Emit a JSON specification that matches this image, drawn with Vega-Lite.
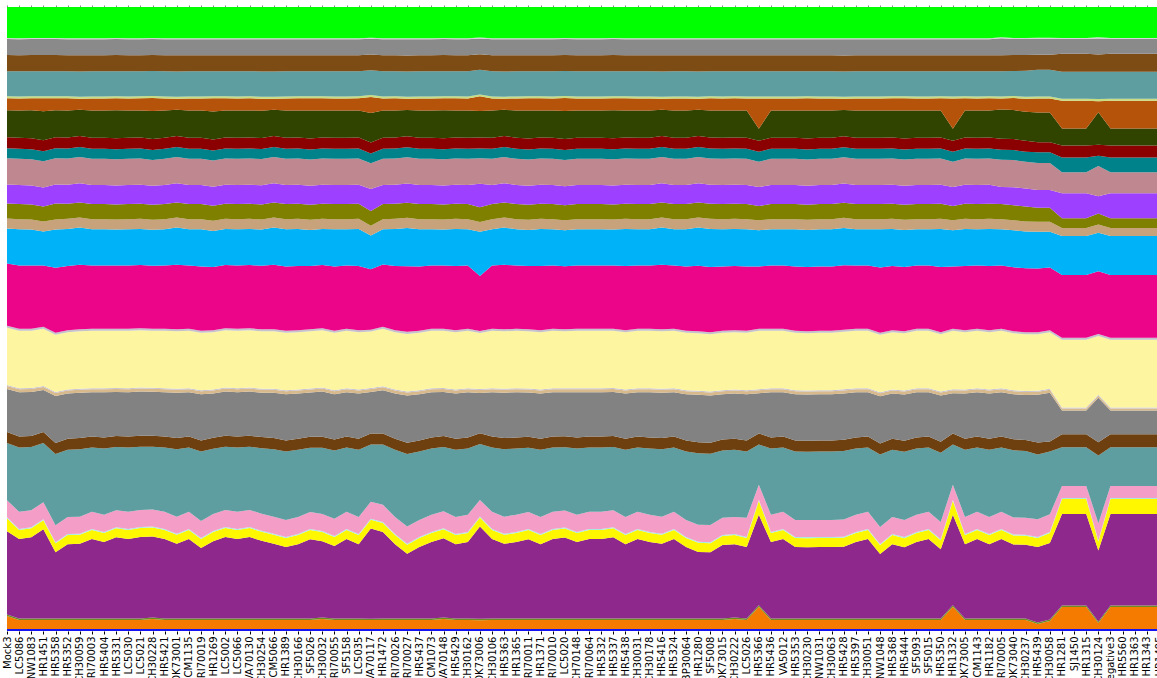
{
"$schema": "https://vega.github.io/schema/vega-lite/v6.json",
"width": 1152, "height": 624,
"autosize": {"type": "none"},
"padding": {"left": 7, "top": 7, "right": 0, "bottom": 60},
"background": "white",
"config": {"view": {"stroke": null}},
"data": {"values": [
{"s":"Mock3","a0":2,"a1":13,"a2":1.5,"a3":83,"a4":13,"a5":1,"a6":17,"a7":57,"a8":11,"a9":43,"b0":3,"b1":1,"b2":57,"b3":2,"b4":62,"b5":35,"b6":10,"b7":15,"b8":19,"b9":26,"c0":10,"c1":11,"c2":27,"c3":12,"c4":2,"c5":25,"c6":16,"c7":16,"c8":1,"c9":31},
{"s":"LC5086","a0":2,"a1":9,"a2":1.5,"a3":79,"a4":9,"a5":1,"a6":17,"a7":64,"a8":11,"a9":44,"b0":3,"b1":1,"b2":57,"b3":2,"b4":63,"b5":36,"b6":10,"b7":15,"b8":19,"b9":26,"c0":10,"c1":11,"c2":27,"c3":12,"c4":2,"c5":25,"c6":16,"c7":16,"c8":1,"c9":31},
{"s":"NW1083","a0":2,"a1":9,"a2":1.5,"a3":81,"a4":9,"a5":1,"a6":17,"a7":63,"a8":11,"a9":44,"b0":3,"b1":1,"b2":57,"b3":2,"b4":63,"b5":36,"b6":10,"b7":15,"b8":19,"b9":26,"c0":10,"c1":11,"c2":28,"c3":12,"c4":2,"c5":25,"c6":16,"c7":16,"c8":1,"c9":31},
{"s":"HR1451","a0":2,"a1":9,"a2":1.5,"a3":89,"a4":9,"a5":1,"a6":17,"a7":59,"a8":11,"a9":42,"b0":3,"b1":1,"b2":57,"b3":2,"b4":61,"b5":34,"b6":10,"b7":15,"b8":19,"b9":26,"c0":10,"c1":11,"c2":29,"c3":13,"c4":2,"c5":25,"c6":16,"c7":16,"c8":1,"c9":31},
{"s":"HR5358","a0":2,"a1":9,"a2":1.5,"a3":66,"a4":9,"a5":1,"a6":17,"a7":71,"a8":11,"a9":47,"b0":3,"b1":1,"b2":57,"b3":2,"b4":65,"b5":38,"b6":10,"b7":16,"b8":19,"b9":26,"c0":10,"c1":11,"c2":27,"c3":12,"c4":2,"c5":25,"c6":16,"c7":16,"c8":1,"c9":31},
{"s":"HR5352","a0":2,"a1":9,"a2":1.5,"a3":74,"a4":9,"a5":1,"a6":17,"a7":67,"a8":11,"a9":45,"b0":3,"b1":1,"b2":57,"b3":2,"b4":64,"b5":37,"b6":10,"b7":15,"b8":19,"b9":26,"c0":10,"c1":11,"c2":27,"c3":12,"c4":2,"c5":25,"c6":16,"c7":16,"c8":1,"c9":31},
{"s":"CH30059","a0":2,"a1":9,"a2":1.5,"a3":74,"a4":9,"a5":1,"a6":17,"a7":67,"a8":11,"a9":45,"b0":3,"b1":1,"b2":57,"b3":2,"b4":64,"b5":37,"b6":10,"b7":15,"b8":19,"b9":26,"c0":10,"c1":11,"c2":26,"c3":11,"c4":2,"c5":25,"c6":16,"c7":16,"c8":1,"c9":31},
{"s":"RI70003","a0":2,"a1":9,"a2":1.5,"a3":79,"a4":9,"a5":1,"a6":17,"a7":64,"a8":11,"a9":44,"b0":3,"b1":1,"b2":57,"b3":2,"b4":63,"b5":36,"b6":10,"b7":15,"b8":19,"b9":26,"c0":10,"c1":11,"c2":27,"c3":12,"c4":2,"c5":25,"c6":16,"c7":16,"c8":1,"c9":31},
{"s":"HR5404","a0":2,"a1":9,"a2":1.5,"a3":76,"a4":9,"a5":1,"a6":17,"a7":66,"a8":11,"a9":45,"b0":3,"b1":1,"b2":57,"b3":2,"b4":63,"b5":36,"b6":10,"b7":15,"b8":19,"b9":26,"c0":10,"c1":11,"c2":27,"c3":12,"c4":2,"c5":25,"c6":16,"c7":16,"c8":1,"c9":31},
{"s":"HR5331","a0":2,"a1":9,"a2":1.5,"a3":81,"a4":9,"a5":1,"a6":17,"a7":63,"a8":11,"a9":44,"b0":3,"b1":1,"b2":57,"b3":2,"b4":63,"b5":36,"b6":10,"b7":15,"b8":19,"b9":26,"c0":10,"c1":11,"c2":28,"c3":12,"c4":2,"c5":25,"c6":16,"c7":16,"c8":1,"c9":31},
{"s":"LC5030","a0":2,"a1":9,"a2":1.5,"a3":79,"a4":9,"a5":1,"a6":17,"a7":64,"a8":11,"a9":44,"b0":3,"b1":1,"b2":57,"b3":2,"b4":63,"b5":36,"b6":10,"b7":15,"b8":19,"b9":26,"c0":10,"c1":11,"c2":27,"c3":12,"c4":2,"c5":25,"c6":16,"c7":16,"c8":1,"c9":31},
{"s":"LC5021","a0":2,"a1":9,"a2":1.5,"a3":81,"a4":9,"a5":1,"a6":17,"a7":63,"a8":11,"a9":44,"b0":3,"b1":1,"b2":57,"b3":2,"b4":63,"b5":36,"b6":10,"b7":15,"b8":19,"b9":26,"c0":10,"c1":11,"c2":27,"c3":12,"c4":2,"c5":25,"c6":16,"c7":16,"c8":1,"c9":31},
{"s":"CH30228","a0":2,"a1":10,"a2":1.5,"a3":81,"a4":9,"a5":1,"a6":17,"a7":63,"a8":11,"a9":44,"b0":3,"b1":1,"b2":57,"b3":2,"b4":63,"b5":36,"b6":10,"b7":15,"b8":19,"b9":26,"c0":10,"c1":11,"c2":28,"c3":13,"c4":2,"c5":25,"c6":16,"c7":16,"c8":1,"c9":31},
{"s":"HR5421","a0":2,"a1":9,"a2":1.5,"a3":79,"a4":9,"a5":1,"a6":17,"a7":64,"a8":11,"a9":44,"b0":3,"b1":1,"b2":57,"b3":2,"b4":63,"b5":36,"b6":10,"b7":15,"b8":19,"b9":26,"c0":10,"c1":11,"c2":27,"c3":12,"c4":2,"c5":25,"c6":16,"c7":16,"c8":1,"c9":31},
{"s":"OK73001","a0":2,"a1":9,"a2":1.5,"a3":74,"a4":9,"a5":1,"a6":17,"a7":67,"a8":11,"a9":45,"b0":3,"b1":1,"b2":57,"b3":2,"b4":64,"b5":37,"b6":10,"b7":15,"b8":19,"b9":26,"c0":10,"c1":11,"c2":26,"c3":11,"c4":2,"c5":25,"c6":16,"c7":16,"c8":1,"c9":31},
{"s":"CM1135","a0":2,"a1":9,"a2":1.5,"a3":79,"a4":9,"a5":1,"a6":17,"a7":64,"a8":11,"a9":44,"b0":3,"b1":1,"b2":57,"b3":2,"b4":63,"b5":36,"b6":10,"b7":15,"b8":19,"b9":26,"c0":10,"c1":11,"c2":27,"c3":12,"c4":2,"c5":25,"c6":16,"c7":16,"c8":1,"c9":31},
{"s":"RI70019","a0":2,"a1":9,"a2":1.5,"a3":70,"a4":9,"a5":1,"a6":17,"a7":69,"a8":11,"a9":46,"b0":3,"b1":1,"b2":57,"b3":2,"b4":64,"b5":37,"b6":10,"b7":15,"b8":19,"b9":26,"c0":10,"c1":11,"c2":27,"c3":12,"c4":2,"c5":25,"c6":16,"c7":16,"c8":1,"c9":31},
{"s":"HR1269","a0":2,"a1":9,"a2":1.5,"a3":77,"a4":9,"a5":1,"a6":17,"a7":65,"a8":11,"a9":44,"b0":3,"b1":1,"b2":57,"b3":2,"b4":63,"b5":36,"b6":10,"b7":15,"b8":19,"b9":26,"c0":10,"c1":11,"c2":28,"c3":13,"c4":2,"c5":25,"c6":16,"c7":16,"c8":1,"c9":31},
{"s":"LC5002","a0":2,"a1":9,"a2":1.5,"a3":81,"a4":9,"a5":1,"a6":17,"a7":63,"a8":11,"a9":44,"b0":3,"b1":1,"b2":57,"b3":2,"b4":63,"b5":36,"b6":10,"b7":15,"b8":19,"b9":26,"c0":10,"c1":11,"c2":27,"c3":12,"c4":2,"c5":25,"c6":16,"c7":16,"c8":1,"c9":31},
{"s":"LC5066","a0":2,"a1":9,"a2":1.5,"a3":79,"a4":9,"a5":1,"a6":17,"a7":64,"a8":11,"a9":44,"b0":3,"b1":1,"b2":57,"b3":2,"b4":63,"b5":36,"b6":10,"b7":15,"b8":19,"b9":26,"c0":10,"c1":11,"c2":27,"c3":12,"c4":2,"c5":25,"c6":16,"c7":16,"c8":1,"c9":31},
{"s":"VA70130","a0":2,"a1":9,"a2":1.5,"a3":81,"a4":9,"a5":1,"a6":17,"a7":63,"a8":11,"a9":44,"b0":3,"b1":1,"b2":57,"b3":2,"b4":63,"b5":36,"b6":10,"b7":15,"b8":19,"b9":26,"c0":10,"c1":11,"c2":27,"c3":12,"c4":2,"c5":25,"c6":16,"c7":16,"c8":1,"c9":31},
{"s":"CH30254","a0":2,"a1":9,"a2":1.5,"a3":77,"a4":9,"a5":1,"a6":17,"a7":65,"a8":11,"a9":44,"b0":3,"b1":1,"b2":57,"b3":2,"b4":63,"b5":36,"b6":10,"b7":15,"b8":19,"b9":26,"c0":10,"c1":11,"c2":27,"c3":12,"c4":2,"c5":25,"c6":16,"c7":16,"c8":1,"c9":31},
{"s":"CM5066","a0":2,"a1":9,"a2":1.5,"a3":74,"a4":9,"a5":1,"a6":17,"a7":67,"a8":11,"a9":45,"b0":3,"b1":1,"b2":57,"b3":2,"b4":64,"b5":37,"b6":10,"b7":15,"b8":19,"b9":26,"c0":10,"c1":11,"c2":26,"c3":11,"c4":2,"c5":25,"c6":16,"c7":16,"c8":1,"c9":31},
{"s":"HR1389","a0":2,"a1":9,"a2":1.5,"a3":71,"a4":9,"a5":1,"a6":17,"a7":68,"a8":11,"a9":46,"b0":3,"b1":1,"b2":57,"b3":2,"b4":64,"b5":37,"b6":10,"b7":15,"b8":19,"b9":26,"c0":10,"c1":11,"c2":27,"c3":12,"c4":2,"c5":25,"c6":16,"c7":16,"c8":1,"c9":31},
{"s":"CH30166","a0":2,"a1":9,"a2":1.5,"a3":74,"a4":9,"a5":1,"a6":17,"a7":67,"a8":11,"a9":45,"b0":3,"b1":1,"b2":57,"b3":2,"b4":64,"b5":37,"b6":10,"b7":15,"b8":19,"b9":26,"c0":10,"c1":11,"c2":27,"c3":12,"c4":2,"c5":25,"c6":16,"c7":16,"c8":1,"c9":31},
{"s":"SF5026","a0":2,"a1":9,"a2":1.5,"a3":79,"a4":9,"a5":1,"a6":17,"a7":64,"a8":11,"a9":44,"b0":3,"b1":1,"b2":57,"b3":2,"b4":63,"b5":36,"b6":10,"b7":15,"b8":19,"b9":26,"c0":10,"c1":11,"c2":28,"c3":12,"c4":2,"c5":25,"c6":16,"c7":16,"c8":1,"c9":31},
{"s":"CH30032","a0":2,"a1":10,"a2":1.5,"a3":76,"a4":9,"a5":1,"a6":17,"a7":66,"a8":11,"a9":45,"b0":3,"b1":1,"b2":57,"b3":2,"b4":63,"b5":36,"b6":10,"b7":15,"b8":19,"b9":26,"c0":10,"c1":11,"c2":27,"c3":12,"c4":2,"c5":25,"c6":16,"c7":16,"c8":1,"c9":31},
{"s":"RI70055","a0":2,"a1":9,"a2":1.5,"a3":72,"a4":9,"a5":1,"a6":17,"a7":68,"a8":11,"a9":45,"b0":3,"b1":1,"b2":57,"b3":2,"b4":64,"b5":37,"b6":10,"b7":15,"b8":19,"b9":26,"c0":10,"c1":11,"c2":27,"c3":12,"c4":2,"c5":25,"c6":16,"c7":16,"c8":1,"c9":31},
{"s":"SF5158","a0":2,"a1":9,"a2":1.5,"a3":79,"a4":9,"a5":1,"a6":17,"a7":64,"a8":11,"a9":44,"b0":3,"b1":1,"b2":57,"b3":2,"b4":63,"b5":36,"b6":10,"b7":15,"b8":19,"b9":26,"c0":10,"c1":11,"c2":27,"c3":12,"c4":2,"c5":25,"c6":16,"c7":16,"c8":1,"c9":31},
{"s":"LC5035","a0":2,"a1":9,"a2":1.5,"a3":74,"a4":9,"a5":1,"a6":17,"a7":67,"a8":11,"a9":45,"b0":3,"b1":1,"b2":57,"b3":2,"b4":64,"b5":37,"b6":10,"b7":15,"b8":19,"b9":26,"c0":10,"c1":11,"c2":27,"c3":12,"c4":2,"c5":25,"c6":16,"c7":16,"c8":1,"c9":31},
{"s":"VA70117","a0":2,"a1":9,"a2":1.5,"a3":91,"a4":9,"a5":1,"a6":17,"a7":58,"a8":11,"a9":42,"b0":3,"b1":1,"b2":57,"b3":2,"b4":61,"b5":34,"b6":10,"b7":15,"b8":22,"b9":26,"c0":10,"c1":11,"c2":30,"c3":16,"c4":2,"c5":25,"c6":16,"c7":16,"c8":1,"c9":31},
{"s":"HR1472","a0":2,"a1":9,"a2":1.5,"a3":86,"a4":9,"a5":1,"a6":17,"a7":60,"a8":11,"a9":43,"b0":3,"b1":1,"b2":57,"b3":2,"b4":62,"b5":35,"b6":10,"b7":15,"b8":19,"b9":26,"c0":10,"c1":11,"c2":27,"c3":12,"c4":2,"c5":25,"c6":16,"c7":16,"c8":1,"c9":31},
{"s":"RI70026","a0":2,"a1":9,"a2":1.5,"a3":74,"a4":9,"a5":1,"a6":17,"a7":67,"a8":11,"a9":45,"b0":3,"b1":1,"b2":57,"b3":2,"b4":64,"b5":37,"b6":10,"b7":15,"b8":19,"b9":26,"c0":10,"c1":11,"c2":27,"c3":12,"c4":2,"c5":25,"c6":16,"c7":16,"c8":1,"c9":31},
{"s":"RI70027","a0":2,"a1":9,"a2":1.5,"a3":64,"a4":9,"a5":1,"a6":17,"a7":72,"a8":11,"a9":47,"b0":3,"b1":1,"b2":57,"b3":2,"b4":65,"b5":38,"b6":10,"b7":15,"b8":19,"b9":26,"c0":10,"c1":11,"c2":26,"c3":11,"c4":2,"c5":25,"c6":16,"c7":16,"c8":1,"c9":31},
{"s":"HR5437","a0":2,"a1":9,"a2":1.5,"a3":71,"a4":9,"a5":1,"a6":17,"a7":68,"a8":11,"a9":46,"b0":3,"b1":1,"b2":57,"b3":2,"b4":64,"b5":37,"b6":10,"b7":15,"b8":19,"b9":26,"c0":10,"c1":11,"c2":27,"c3":12,"c4":2,"c5":25,"c6":16,"c7":16,"c8":1,"c9":31},
{"s":"CM1073","a0":2,"a1":9,"a2":1.5,"a3":76,"a4":9,"a5":1,"a6":17,"a7":66,"a8":11,"a9":45,"b0":3,"b1":1,"b2":57,"b3":2,"b4":63,"b5":36,"b6":10,"b7":15,"b8":19,"b9":26,"c0":10,"c1":11,"c2":27,"c3":12,"c4":2,"c5":25,"c6":16,"c7":16,"c8":1,"c9":31},
{"s":"VA70148","a0":2,"a1":10,"a2":1.5,"a3":79,"a4":9,"a5":1,"a6":17,"a7":64,"a8":11,"a9":44,"b0":3,"b1":1,"b2":57,"b3":2,"b4":63,"b5":36,"b6":10,"b7":15,"b8":19,"b9":26,"c0":10,"c1":11,"c2":28,"c3":12,"c4":2,"c5":25,"c6":16,"c7":16,"c8":1,"c9":31},
{"s":"HR5429","a0":2,"a1":9,"a2":1.5,"a3":74,"a4":9,"a5":1,"a6":17,"a7":67,"a8":11,"a9":45,"b0":3,"b1":1,"b2":57,"b3":2,"b4":64,"b5":37,"b6":10,"b7":15,"b8":19,"b9":26,"c0":10,"c1":11,"c2":27,"c3":12,"c4":2,"c5":25,"c6":16,"c7":16,"c8":1,"c9":31},
{"s":"CH30162","a0":2,"a1":9,"a2":1.5,"a3":76,"a4":9,"a5":1,"a6":17,"a7":66,"a8":11,"a9":45,"b0":3,"b1":1,"b2":57,"b3":2,"b4":63,"b5":36,"b6":10,"b7":15,"b8":19,"b9":26,"c0":10,"c1":11,"c2":27,"c3":12,"c4":2,"c5":25,"c6":16,"c7":16,"c8":1,"c9":31},
{"s":"OK73006","a0":2,"a1":9,"a2":1.5,"a3":94,"a4":9,"a5":1,"a6":17,"a7":57,"a8":11,"a9":41,"b0":3,"b1":1,"b2":57,"b3":2,"b4":56,"b5":45,"b6":10,"b7":15,"b8":24,"b9":26,"c0":10,"c1":11,"c2":27,"c3":15,"c4":2,"c5":25,"c6":16,"c7":16,"c8":1,"c9":31},
{"s":"CH30106","a0":2,"a1":9,"a2":1.5,"a3":79,"a4":9,"a5":1,"a6":17,"a7":64,"a8":11,"a9":44,"b0":3,"b1":1,"b2":57,"b3":2,"b4":63,"b5":36,"b6":10,"b7":15,"b8":19,"b9":26,"c0":10,"c1":11,"c2":27,"c3":12,"c4":2,"c5":25,"c6":16,"c7":16,"c8":1,"c9":31},
{"s":"HR5363","a0":2,"a1":9,"a2":1.5,"a3":74,"a4":9,"a5":1,"a6":17,"a7":67,"a8":11,"a9":45,"b0":3,"b1":1,"b2":57,"b3":2,"b4":64,"b5":37,"b6":10,"b7":15,"b8":19,"b9":26,"c0":10,"c1":11,"c2":26,"c3":11,"c4":2,"c5":25,"c6":16,"c7":16,"c8":1,"c9":31},
{"s":"HR1365","a0":2,"a1":9,"a2":1.5,"a3":76,"a4":9,"a5":1,"a6":17,"a7":66,"a8":11,"a9":45,"b0":3,"b1":1,"b2":57,"b3":2,"b4":63,"b5":36,"b6":10,"b7":15,"b8":19,"b9":26,"c0":10,"c1":11,"c2":27,"c3":12,"c4":2,"c5":25,"c6":16,"c7":16,"c8":1,"c9":31},
{"s":"RI70011","a0":2,"a1":9,"a2":1.5,"a3":79,"a4":9,"a5":1,"a6":17,"a7":64,"a8":11,"a9":44,"b0":3,"b1":1,"b2":57,"b3":2,"b4":63,"b5":36,"b6":10,"b7":15,"b8":19,"b9":26,"c0":10,"c1":11,"c2":28,"c3":12,"c4":2,"c5":25,"c6":16,"c7":16,"c8":1,"c9":31},
{"s":"HR1371","a0":2,"a1":9,"a2":1.5,"a3":74,"a4":9,"a5":1,"a6":17,"a7":67,"a8":11,"a9":45,"b0":3,"b1":1,"b2":57,"b3":2,"b4":64,"b5":37,"b6":10,"b7":15,"b8":19,"b9":26,"c0":10,"c1":11,"c2":27,"c3":12,"c4":2,"c5":25,"c6":16,"c7":16,"c8":1,"c9":31},
{"s":"RI70010","a0":2,"a1":9,"a2":1.5,"a3":79,"a4":9,"a5":1,"a6":17,"a7":64,"a8":11,"a9":44,"b0":3,"b1":1,"b2":57,"b3":2,"b4":63,"b5":36,"b6":10,"b7":15,"b8":19,"b9":26,"c0":10,"c1":11,"c2":27,"c3":12,"c4":2,"c5":25,"c6":16,"c7":16,"c8":1,"c9":31},
{"s":"LC5020","a0":2,"a1":9,"a2":1.5,"a3":81,"a4":9,"a5":1,"a6":17,"a7":63,"a8":11,"a9":44,"b0":3,"b1":1,"b2":57,"b3":2,"b4":63,"b5":36,"b6":10,"b7":15,"b8":19,"b9":26,"c0":10,"c1":11,"c2":28,"c3":13,"c4":2,"c5":25,"c6":16,"c7":16,"c8":1,"c9":31},
{"s":"CH70148","a0":2,"a1":9,"a2":1.5,"a3":76,"a4":9,"a5":1,"a6":17,"a7":66,"a8":11,"a9":45,"b0":3,"b1":1,"b2":57,"b3":2,"b4":63,"b5":36,"b6":10,"b7":15,"b8":19,"b9":26,"c0":10,"c1":11,"c2":27,"c3":12,"c4":2,"c5":25,"c6":16,"c7":16,"c8":1,"c9":31},
{"s":"RI70064","a0":2,"a1":9,"a2":1.5,"a3":79,"a4":9,"a5":1,"a6":17,"a7":64,"a8":11,"a9":44,"b0":3,"b1":1,"b2":57,"b3":2,"b4":63,"b5":36,"b6":10,"b7":15,"b8":19,"b9":26,"c0":10,"c1":11,"c2":27,"c3":12,"c4":2,"c5":25,"c6":16,"c7":16,"c8":1,"c9":31},
{"s":"HR5332","a0":2,"a1":9,"a2":1.5,"a3":79,"a4":9,"a5":1,"a6":17,"a7":64,"a8":11,"a9":44,"b0":3,"b1":1,"b2":57,"b3":2,"b4":63,"b5":36,"b6":10,"b7":15,"b8":19,"b9":26,"c0":10,"c1":11,"c2":27,"c3":12,"c4":2,"c5":25,"c6":16,"c7":16,"c8":1,"c9":31},
{"s":"HR5337","a0":2,"a1":9,"a2":1.5,"a3":81,"a4":9,"a5":1,"a6":17,"a7":63,"a8":11,"a9":44,"b0":3,"b1":1,"b2":57,"b3":2,"b4":63,"b5":36,"b6":10,"b7":15,"b8":19,"b9":26,"c0":10,"c1":11,"c2":28,"c3":12,"c4":2,"c5":25,"c6":16,"c7":16,"c8":1,"c9":31},
{"s":"HR5438","a0":2,"a1":9,"a2":1.5,"a3":74,"a4":9,"a5":1,"a6":17,"a7":67,"a8":11,"a9":45,"b0":3,"b1":1,"b2":57,"b3":2,"b4":64,"b5":37,"b6":10,"b7":15,"b8":19,"b9":26,"c0":10,"c1":11,"c2":27,"c3":12,"c4":2,"c5":25,"c6":16,"c7":16,"c8":1,"c9":31},
{"s":"CH30031","a0":2,"a1":9,"a2":1.5,"a3":79,"a4":9,"a5":1,"a6":17,"a7":64,"a8":11,"a9":44,"b0":3,"b1":1,"b2":57,"b3":2,"b4":63,"b5":36,"b6":10,"b7":15,"b8":19,"b9":26,"c0":10,"c1":11,"c2":27,"c3":12,"c4":2,"c5":25,"c6":16,"c7":16,"c8":1,"c9":31},
{"s":"CH30178","a0":2,"a1":9,"a2":1.5,"a3":76,"a4":9,"a5":1,"a6":17,"a7":66,"a8":11,"a9":45,"b0":3,"b1":1,"b2":57,"b3":2,"b4":63,"b5":36,"b6":10,"b7":15,"b8":19,"b9":26,"c0":10,"c1":11,"c2":27,"c3":12,"c4":2,"c5":25,"c6":16,"c7":16,"c8":1,"c9":31},
{"s":"HR5416","a0":2,"a1":9,"a2":1.5,"a3":74,"a4":9,"a5":1,"a6":17,"a7":67,"a8":11,"a9":45,"b0":3,"b1":1,"b2":57,"b3":2,"b4":64,"b5":37,"b6":10,"b7":15,"b8":19,"b9":26,"c0":10,"c1":11,"c2":26,"c3":11,"c4":2,"c5":25,"c6":16,"c7":16,"c8":1,"c9":31},
{"s":"HR5324","a0":2,"a1":9,"a2":1.5,"a3":79,"a4":9,"a5":1,"a6":17,"a7":64,"a8":11,"a9":44,"b0":3,"b1":1,"b2":57,"b3":2,"b4":63,"b5":36,"b6":10,"b7":15,"b8":19,"b9":26,"c0":10,"c1":11,"c2":27,"c3":12,"c4":2,"c5":25,"c6":16,"c7":16,"c8":1,"c9":31},
{"s":"BP30064","a0":2,"a1":9,"a2":1.5,"a3":71,"a4":9,"a5":1,"a6":17,"a7":68,"a8":11,"a9":46,"b0":3,"b1":1,"b2":57,"b3":2,"b4":64,"b5":37,"b6":10,"b7":15,"b8":19,"b9":26,"c0":10,"c1":11,"c2":27,"c3":12,"c4":2,"c5":25,"c6":16,"c7":16,"c8":1,"c9":31},
{"s":"HR1280","a0":2,"a1":9,"a2":1.5,"a3":66,"a4":9,"a5":1,"a6":17,"a7":71,"a8":11,"a9":47,"b0":3,"b1":1,"b2":57,"b3":2,"b4":65,"b5":38,"b6":10,"b7":15,"b8":19,"b9":26,"c0":10,"c1":11,"c2":26,"c3":11,"c4":2,"c5":25,"c6":16,"c7":16,"c8":1,"c9":31},
{"s":"SF5008","a0":2,"a1":9,"a2":1.5,"a3":66,"a4":9,"a5":1,"a6":17,"a7":71,"a8":11,"a9":47,"b0":3,"b1":1,"b2":57,"b3":2,"b4":65,"b5":38,"b6":10,"b7":15,"b8":19,"b9":26,"c0":10,"c1":11,"c2":27,"c3":12,"c4":2,"c5":25,"c6":16,"c7":16,"c8":1,"c9":31},
{"s":"OK73015","a0":2,"a1":9,"a2":1.5,"a3":73,"a4":9,"a5":1,"a6":17,"a7":67,"a8":11,"a9":45,"b0":3,"b1":1,"b2":57,"b3":2,"b4":64,"b5":37,"b6":10,"b7":15,"b8":19,"b9":26,"c0":10,"c1":11,"c2":27,"c3":12,"c4":2,"c5":25,"c6":16,"c7":16,"c8":1,"c9":31},
{"s":"CH30222","a0":2,"a1":10,"a2":1.5,"a3":73,"a4":9,"a5":1,"a6":17,"a7":67,"a8":11,"a9":45,"b0":3,"b1":1,"b2":57,"b3":2,"b4":64,"b5":37,"b6":10,"b7":15,"b8":19,"b9":26,"c0":10,"c1":11,"c2":27,"c3":12,"c4":2,"c5":25,"c6":16,"c7":16,"c8":1,"c9":31},
{"s":"LC5026","a0":2,"a1":9,"a2":1.5,"a3":71,"a4":9,"a5":1,"a6":19,"a7":66,"a8":11,"a9":46,"b0":3,"b1":1,"b2":57,"b3":2,"b4":64,"b5":37,"b6":10,"b7":15,"b8":19,"b9":26,"c0":10,"c1":11,"c2":27,"c3":12,"c4":2,"c5":25,"c6":16,"c7":16,"c8":1,"c9":31},
{"s":"HR5366","a0":2,"a1":22,"a2":1.5,"a3":90,"a4":14,"a5":1,"a6":15,"a7":40,"a8":11,"a9":40,"b0":3,"b1":1,"b2":58,"b3":2,"b4":62,"b5":36,"b6":10,"b7":14,"b8":19,"b9":25,"c0":10,"c1":11,"c2":12,"c3":30,"c4":2,"c5":25,"c6":16,"c7":16,"c8":1,"c9":31},
{"s":"HR5436","a0":2,"a1":9,"a2":1.5,"a3":76,"a4":9,"a5":1,"a6":17,"a7":66,"a8":11,"a9":45,"b0":3,"b1":1,"b2":57,"b3":2,"b4":63,"b5":36,"b6":10,"b7":15,"b8":19,"b9":26,"c0":10,"c1":11,"c2":27,"c3":12,"c4":2,"c5":25,"c6":16,"c7":16,"c8":1,"c9":31},
{"s":"VA5012","a0":2,"a1":9,"a2":1.5,"a3":79,"a4":9,"a5":1,"a6":17,"a7":64,"a8":11,"a9":44,"b0":3,"b1":1,"b2":57,"b3":2,"b4":63,"b5":36,"b6":10,"b7":15,"b8":19,"b9":26,"c0":10,"c1":11,"c2":27,"c3":12,"c4":2,"c5":25,"c6":16,"c7":16,"c8":1,"c9":31},
{"s":"HR5353","a0":2,"a1":9,"a2":1.5,"a3":71,"a4":9,"a5":1,"a6":17,"a7":68,"a8":11,"a9":46,"b0":3,"b1":1,"b2":57,"b3":2,"b4":64,"b5":37,"b6":10,"b7":15,"b8":19,"b9":26,"c0":10,"c1":11,"c2":27,"c3":12,"c4":2,"c5":25,"c6":16,"c7":16,"c8":1,"c9":31},
{"s":"CH30230","a0":2,"a1":9,"a2":1.5,"a3":71,"a4":9,"a5":1,"a6":17,"a7":68,"a8":11,"a9":46,"b0":3,"b1":1,"b2":57,"b3":2,"b4":64,"b5":37,"b6":10,"b7":15,"b8":19,"b9":26,"c0":10,"c1":11,"c2":28,"c3":12,"c4":2,"c5":25,"c6":16,"c7":16,"c8":1,"c9":31},
{"s":"NW1031","a0":2,"a1":9,"a2":1.5,"a3":71,"a4":9,"a5":1,"a6":17,"a7":68,"a8":11,"a9":46,"b0":3,"b1":1,"b2":57,"b3":2,"b4":64,"b5":37,"b6":10,"b7":15,"b8":19,"b9":26,"c0":10,"c1":11,"c2":27,"c3":12,"c4":2,"c5":25,"c6":16,"c7":16,"c8":1,"c9":31},
{"s":"CH30063","a0":2,"a1":9,"a2":1.5,"a3":71,"a4":9,"a5":1,"a6":17,"a7":68,"a8":11,"a9":46,"b0":3,"b1":1,"b2":57,"b3":2,"b4":64,"b5":37,"b6":10,"b7":15,"b8":19,"b9":26,"c0":10,"c1":11,"c2":27,"c3":12,"c4":2,"c5":25,"c6":16,"c7":16,"c8":1,"c9":31},
{"s":"HR5428","a0":2,"a1":9,"a2":1.5,"a3":71,"a4":9,"a5":1,"a6":17,"a7":68,"a8":11,"a9":46,"b0":3,"b1":1,"b2":57,"b3":2,"b4":64,"b5":37,"b6":10,"b7":15,"b8":19,"b9":26,"c0":10,"c1":11,"c2":26,"c3":11,"c4":2,"c5":25,"c6":16,"c7":16,"c8":1,"c9":31},
{"s":"HR5397","a0":2,"a1":9,"a2":1.5,"a3":76,"a4":9,"a5":1,"a6":17,"a7":66,"a8":11,"a9":45,"b0":3,"b1":1,"b2":57,"b3":2,"b4":63,"b5":36,"b6":10,"b7":15,"b8":19,"b9":26,"c0":10,"c1":11,"c2":27,"c3":12,"c4":2,"c5":25,"c6":16,"c7":16,"c8":1,"c9":31},
{"s":"CH30051","a0":2,"a1":9,"a2":1.5,"a3":79,"a4":9,"a5":1,"a6":17,"a7":64,"a8":11,"a9":44,"b0":3,"b1":1,"b2":57,"b3":2,"b4":63,"b5":36,"b6":10,"b7":15,"b8":19,"b9":26,"c0":10,"c1":11,"c2":27,"c3":12,"c4":2,"c5":25,"c6":16,"c7":16,"c8":1,"c9":31},
{"s":"NW1048","a0":2,"a1":9,"a2":1.5,"a3":64,"a4":9,"a5":1,"a6":17,"a7":72,"a8":11,"a9":47,"b0":3,"b1":1,"b2":57,"b3":2,"b4":65,"b5":38,"b6":10,"b7":15,"b8":19,"b9":26,"c0":10,"c1":11,"c2":27,"c3":12,"c4":2,"c5":25,"c6":16,"c7":16,"c8":1,"c9":31},
{"s":"HR5368","a0":2,"a1":9,"a2":1.5,"a3":74,"a4":9,"a5":1,"a6":17,"a7":67,"a8":11,"a9":45,"b0":3,"b1":1,"b2":57,"b3":2,"b4":64,"b5":37,"b6":10,"b7":15,"b8":19,"b9":26,"c0":10,"c1":11,"c2":27,"c3":12,"c4":2,"c5":25,"c6":16,"c7":16,"c8":1,"c9":31},
{"s":"HR5444","a0":2,"a1":9,"a2":1.5,"a3":71,"a4":9,"a5":1,"a6":17,"a7":68,"a8":11,"a9":46,"b0":3,"b1":1,"b2":57,"b3":2,"b4":64,"b5":37,"b6":10,"b7":15,"b8":19,"b9":26,"c0":10,"c1":11,"c2":28,"c3":12,"c4":2,"c5":25,"c6":16,"c7":16,"c8":1,"c9":31},
{"s":"SF5093","a0":2,"a1":9,"a2":1.5,"a3":76,"a4":9,"a5":1,"a6":17,"a7":66,"a8":11,"a9":45,"b0":3,"b1":1,"b2":57,"b3":2,"b4":63,"b5":36,"b6":10,"b7":15,"b8":19,"b9":26,"c0":10,"c1":11,"c2":27,"c3":12,"c4":2,"c5":25,"c6":16,"c7":16,"c8":1,"c9":31},
{"s":"SF5015","a0":2,"a1":9,"a2":1.5,"a3":79,"a4":9,"a5":1,"a6":17,"a7":64,"a8":11,"a9":44,"b0":3,"b1":1,"b2":57,"b3":2,"b4":63,"b5":36,"b6":10,"b7":15,"b8":19,"b9":26,"c0":10,"c1":11,"c2":27,"c3":12,"c4":2,"c5":25,"c6":16,"c7":16,"c8":1,"c9":31},
{"s":"HR5350","a0":2,"a1":9,"a2":1.5,"a3":69,"a4":9,"a5":1,"a6":17,"a7":69,"a8":11,"a9":46,"b0":3,"b1":1,"b2":57,"b3":2,"b4":65,"b5":38,"b6":10,"b7":15,"b8":19,"b9":26,"c0":10,"c1":11,"c2":27,"c3":12,"c4":2,"c5":25,"c6":16,"c7":16,"c8":1,"c9":31},
{"s":"HR1332","a0":2,"a1":22,"a2":1.5,"a3":90,"a4":14,"a5":1,"a6":15,"a7":40,"a8":11,"a9":40,"b0":3,"b1":1,"b2":58,"b3":2,"b4":62,"b5":36,"b6":10,"b7":14,"b8":19,"b9":25,"c0":10,"c1":11,"c2":12,"c3":30,"c4":2,"c5":25,"c6":16,"c7":16,"c8":1,"c9":31},
{"s":"OK73005","a0":2,"a1":9,"a2":1.5,"a3":74,"a4":9,"a5":1,"a6":17,"a7":67,"a8":11,"a9":45,"b0":3,"b1":1,"b2":57,"b3":2,"b4":64,"b5":37,"b6":10,"b7":15,"b8":19,"b9":26,"c0":10,"c1":11,"c2":27,"c3":12,"c4":2,"c5":25,"c6":16,"c7":16,"c8":1,"c9":31},
{"s":"CM1143","a0":2,"a1":9,"a2":1.5,"a3":79,"a4":9,"a5":1,"a6":17,"a7":64,"a8":11,"a9":44,"b0":3,"b1":1,"b2":57,"b3":2,"b4":63,"b5":36,"b6":10,"b7":15,"b8":19,"b9":26,"c0":10,"c1":11,"c2":27,"c3":12,"c4":2,"c5":25,"c6":16,"c7":16,"c8":1,"c9":31},
{"s":"HR1182","a0":2,"a1":9,"a2":1.5,"a3":74,"a4":9,"a5":1,"a6":17,"a7":67,"a8":11,"a9":45,"b0":3,"b1":1,"b2":57,"b3":2,"b4":64,"b5":37,"b6":10,"b7":15,"b8":19,"b9":26,"c0":10,"c1":11,"c2":27,"c3":12,"c4":2,"c5":25,"c6":16,"c7":16,"c8":1,"c9":31},
{"s":"RI70005","a0":2,"a1":9,"a2":1.5,"a3":79,"a4":9,"a5":1,"a6":17,"a7":64,"a8":11,"a9":44,"b0":3,"b1":1,"b2":57,"b3":2,"b4":63,"b5":36,"b6":10,"b7":15,"b8":17,"b9":27,"c0":10,"c1":11,"c2":29,"c3":11,"c4":2,"c5":25,"c6":16,"c7":17,"c8":1,"c9":30},
{"s":"OK73040","a0":2,"a1":9,"a2":1.5,"a3":74,"a4":9,"a5":1,"a6":17,"a7":67,"a8":11,"a9":45,"b0":3,"b1":1,"b2":57,"b3":2,"b4":64,"b5":37,"b6":10,"b7":15,"b8":18,"b9":27,"c0":10,"c1":11,"c2":29,"c3":12,"c4":2,"c5":25,"c6":16,"c7":16,"c8":1,"c9":31},
{"s":"CH30237","a0":2,"a1":9,"a2":1.5,"a3":74,"a4":9,"a5":1,"a6":17,"a7":67,"a8":11,"a9":45,"b0":3,"b1":1,"b2":57,"b3":2,"b4":64,"b5":37,"b6":10,"b7":15,"b8":18,"b9":27,"c0":10,"c1":11,"c2":29,"c3":13,"c4":2,"c5":26,"c6":16,"c7":16,"c8":1,"c9":31},
{"s":"HR5439","a0":2,"a1":5,"a2":1.5,"a3":76,"a4":9,"a5":1,"a6":18,"a7":65,"a8":12,"a9":48,"b0":3,"b1":1,"b2":57,"b3":2,"b4":64,"b5":37,"b6":10,"b7":14,"b8":18,"b9":27,"c0":11,"c1":10,"c2":30,"c3":14,"c4":2,"c5":27,"c6":15,"c7":16,"c8":1,"c9":31},
{"s":"CH30058","a0":2,"a1":8,"a2":1.5,"a3":77,"a4":10,"a5":1,"a6":18,"a7":63,"a8":10,"a9":49,"b0":3,"b1":1,"b2":57,"b3":2,"b4":63,"b5":36,"b6":10,"b7":14,"b8":18,"b9":27,"c0":11,"c1":10,"c2":30,"c3":14,"c4":2,"c5":27,"c6":15,"c7":16,"c8":1,"c9":31},
{"s":"HR1281","a0":2,"a1":22,"a2":1.5,"a3":92,"a4":15,"a5":1,"a6":12,"a7":39,"a8":13,"a9":24,"b0":2,"b1":1,"b2":68,"b3":2,"b4":63,"b5":39,"b6":8,"b7":10,"b8":25,"b9":21,"c0":15,"c1":12,"c2":17,"c3":28,"c4":2,"c5":27,"c6":18,"c7":15,"c8":1,"c9":31},
{"s":"SJ1450","a0":2,"a1":22,"a2":1.5,"a3":92,"a4":15,"a5":1,"a6":12,"a7":39,"a8":13,"a9":24,"b0":2,"b1":1,"b2":68,"b3":2,"b4":63,"b5":39,"b6":8,"b7":10,"b8":25,"b9":21,"c0":15,"c1":12,"c2":17,"c3":28,"c4":2,"c5":27,"c6":18,"c7":15,"c8":1,"c9":31},
{"s":"HR1315","a0":2,"a1":22,"a2":1.5,"a3":92,"a4":15,"a5":1,"a6":12,"a7":39,"a8":13,"a9":24,"b0":2,"b1":1,"b2":68,"b3":2,"b4":63,"b5":39,"b6":8,"b7":10,"b8":25,"b9":21,"c0":15,"c1":12,"c2":17,"c3":28,"c4":2,"c5":27,"c6":18,"c7":15,"c8":1,"c9":31},
{"s":"CH30124","a0":2,"a1":6,"a2":1.5,"a3":70,"a4":9,"a5":1,"a6":17,"a7":67,"a8":13,"a9":44,"b0":2,"b1":1,"b2":58,"b3":2,"b4":62,"b5":38,"b6":8,"b7":11,"b8":17,"b9":30,"c0":10,"c1":11,"c2":32,"c3":11,"c4":2,"c5":27,"c6":17,"c7":16,"c8":1,"c9":30},
{"s":"Negative3","a0":2,"a1":22,"a2":1.5,"a3":92,"a4":15,"a5":1,"a6":12,"a7":39,"a8":13,"a9":24,"b0":2,"b1":1,"b2":68,"b3":2,"b4":63,"b5":39,"b6":8,"b7":10,"b8":25,"b9":21,"c0":15,"c1":12,"c2":17,"c3":28,"c4":2,"c5":27,"c6":18,"c7":15,"c8":1,"c9":31},
{"s":"HR5560","a0":2,"a1":22,"a2":1.5,"a3":92,"a4":15,"a5":1,"a6":12,"a7":39,"a8":13,"a9":24,"b0":2,"b1":1,"b2":68,"b3":2,"b4":63,"b5":39,"b6":8,"b7":10,"b8":25,"b9":21,"c0":15,"c1":12,"c2":17,"c3":28,"c4":2,"c5":27,"c6":18,"c7":15,"c8":1,"c9":31},
{"s":"HR1363","a0":2,"a1":22,"a2":1.5,"a3":92,"a4":15,"a5":1,"a6":12,"a7":39,"a8":13,"a9":24,"b0":2,"b1":1,"b2":68,"b3":2,"b4":63,"b5":39,"b6":8,"b7":10,"b8":25,"b9":21,"c0":15,"c1":12,"c2":17,"c3":28,"c4":2,"c5":27,"c6":18,"c7":15,"c8":1,"c9":31},
{"s":"HR1343","a0":2,"a1":22,"a2":1.5,"a3":92,"a4":15,"a5":1,"a6":12,"a7":39,"a8":13,"a9":24,"b0":2,"b1":1,"b2":68,"b3":2,"b4":63,"b5":39,"b6":8,"b7":10,"b8":25,"b9":21,"c0":15,"c1":12,"c2":17,"c3":28,"c4":2,"c5":27,"c6":18,"c7":15,"c8":1,"c9":31},
{"s":"HR1495","a0":2,"a1":22,"a2":1.5,"a3":92,"a4":15,"a5":1,"a6":12,"a7":39,"a8":13,"a9":24,"b0":2,"b1":1,"b2":68,"b3":2,"b4":63,"b5":39,"b6":8,"b7":10,"b8":25,"b9":21,"c0":15,"c1":12,"c2":17,"c3":28,"c4":2,"c5":27,"c6":18,"c7":15,"c8":1,"c9":31}
]},
"transform": [
{"fold": ["a0","a1","a2","a3","a4","a5","a6","a7","a8","a9","b0","b1","b2","b3","b4","b5","b6","b7","b8","b9","c0","c1","c2","c3","c4","c5","c6","c7","c8","c9"], "as": ["layer","val"]}
],
"layer": [
{
"mark": {"type": "area", "interpolate": "linear"},
"encoding": {
"x": {"field": "s", "type": "nominal", "sort": null, "scale": {"type": "point", "padding": 0},
 "axis": {"title": null, "orient": "bottom", "labelAngle": -90, "labelFont": "DejaVu Sans", "labelFontSize": 10, "labelColor": "#000000", "labelOverlap": false, "labelPadding": 2, "tickColor": "#000000", "tickSize": 3, "domain": false, "grid": false}},
"y": {"field": "val", "type": "quantitative", "stack": "normalize", "axis": null, "scale": {"domain": [0, 1], "nice": false}},
"color": {"field": "layer", "type": "nominal", "legend": null,
 "scale": {"domain": ["a0","a1","a2","a3","a4","a5","a6","a7","a8","a9","b0","b1","b2","b3","b4","b5","b6","b7","b8","b9","c0","c1","c2","c3","c4","c5","c6","c7","c8","c9"],
 "range": ["#1414F0","#F47B00","#6B8E23","#8F288C","#FFF700","#A8ECE0","#F49DC6","#5F9EA0","#6E4010","#828282","#D8B98C","#C8C2D2","#FDF5A0","#C6C2CC","#EC0588","#00B2F8","#C8A27A","#7F7F00","#9E40FF","#BF8891","#00828A","#8B0000","#304400","#B6530A","#C8DC80","#5F9EA0","#7D4B14","#8A8A8A","#D4D4D4","#00FF00"]}},
"order": {"field": "layer", "type": "ordinal"}
}
},
{
"mark": {"type": "point", "opacity": 0},
"encoding": {
"x": {"field": "s", "type": "nominal", "sort": null,
 "axis": {"title": null, "orient": "top", "labels": false, "ticks": true, "tickColor": "#888888", "tickSize": 2, "domain": false, "grid": false}}
}
}
],
"resolve": {"axis": {"x": "independent"}}
}
